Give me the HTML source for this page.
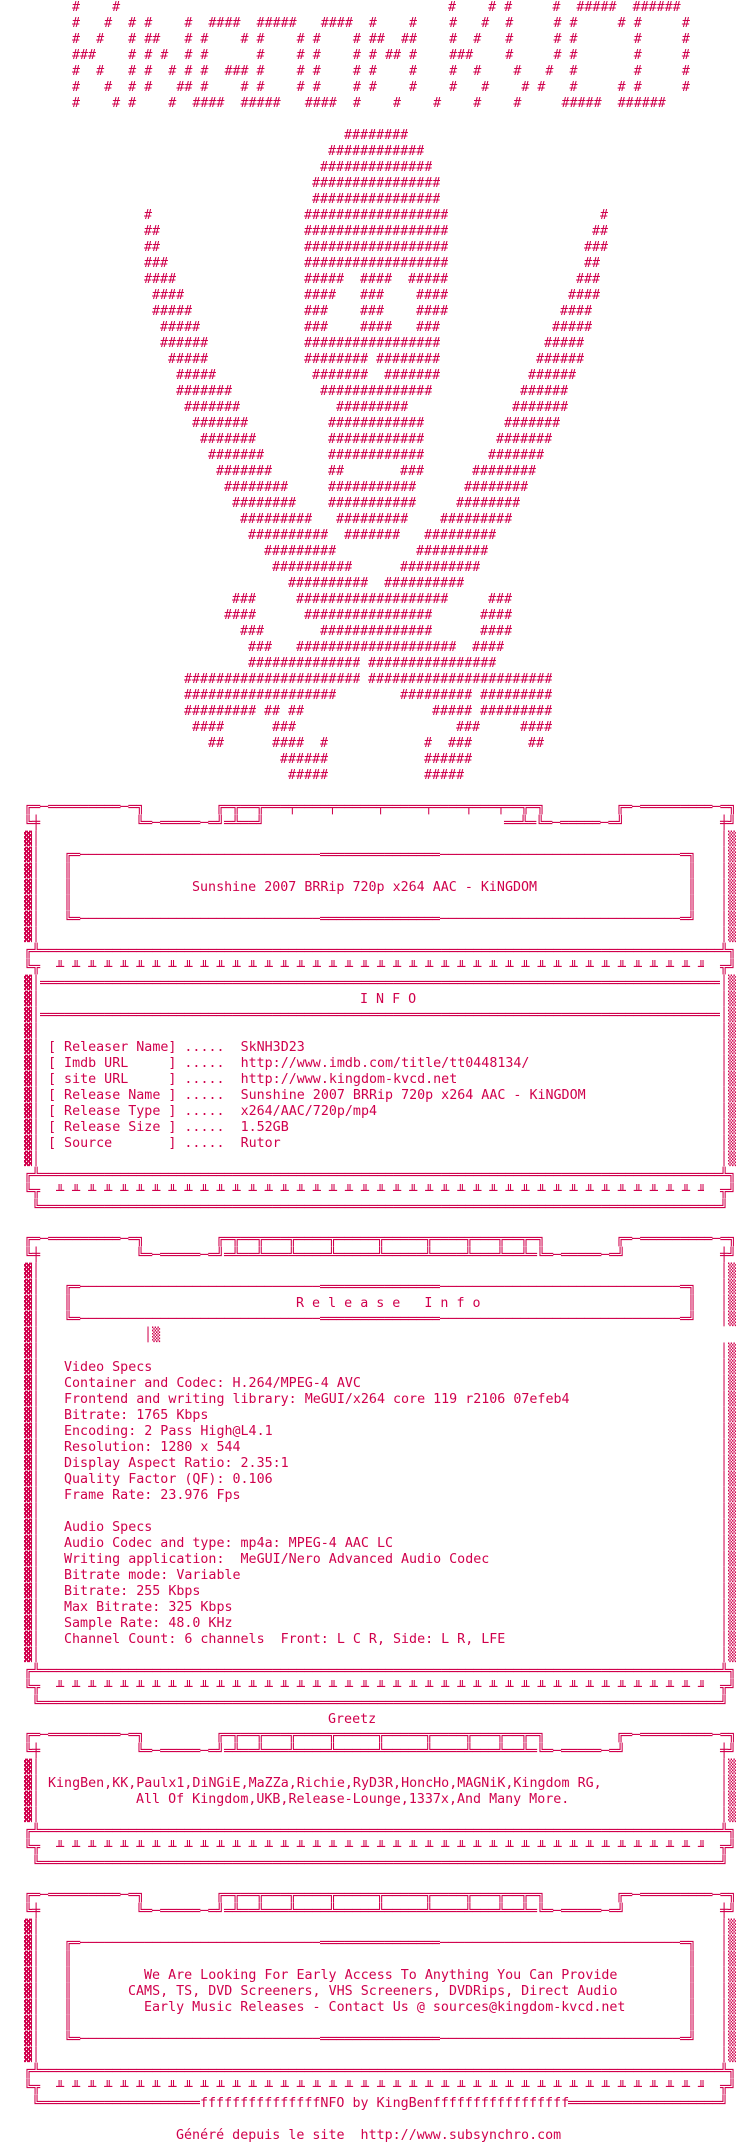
<!DOCTYPE html>
<html><head><meta charset="utf-8">
<style>
html,body{margin:0;padding:0;background:#fff}
body{width:736px;height:2144px;position:relative;overflow:hidden}
.t{position:absolute;left:calc(var(--c)*8px);top:calc(var(--y)*16px);white-space:pre;font-family:"DejaVu Sans Mono","Liberation Mono",monospace;font-size:13.33px;line-height:16px;color:#d0004c;font-style:normal;margin:0}
.w{overflow:hidden;width:calc(var(--n)*8px);height:16px}
</style></head><body>
<!-- header -->
<i class="t" style="--y:0;--c:9">#    #</i><i class="t" style="--y:0;--c:56">#    # #     #  #####  ######</i>
<i class="t" style="--y:1;--c:9">#   #  # #    #  ####  #####   ####  #    #    #   #  #     # #     # #     #</i>
<i class="t" style="--y:2;--c:9">#  #   # ##   # #    # #    # #    # ##  ##    #  #   #     # #       #     #</i>
<i class="t" style="--y:3;--c:9">###    # # #  # #      #    # #    # # ## #    ###    #     # #       #     #</i>
<i class="t" style="--y:4;--c:9">#  #   # #  # # #  ### #    # #    # #    #    #  #    #   #  #       #     #</i>
<i class="t" style="--y:5;--c:9">#   #  # #   ## #    # #    # #    # #    #    #   #    # #   #     # #     #</i>
<i class="t" style="--y:6;--c:9">#    # #    #  ####  #####   ####  #    #    #    #    #     #####  ######</i>
<!-- art -->
<i class="t w" style="--y:8;--c:43;--n:8">########################</i>
<i class="t w" style="--y:9;--c:41;--n:12">########################</i>
<i class="t w" style="--y:10;--c:40;--n:14">########################</i>
<i class="t w" style="--y:11;--c:39;--n:16">########################</i>
<i class="t w" style="--y:12;--c:39;--n:16">########################</i>
<i class="t w" style="--y:13;--c:18;--n:1">########################</i><i class="t w" style="--y:13;--c:38;--n:18">########################</i><i class="t w" style="--y:13;--c:75;--n:1">########################</i>
<i class="t w" style="--y:14;--c:18;--n:2">########################</i><i class="t w" style="--y:14;--c:38;--n:18">########################</i><i class="t w" style="--y:14;--c:74;--n:2">########################</i>
<i class="t w" style="--y:15;--c:18;--n:2">########################</i><i class="t w" style="--y:15;--c:38;--n:18">########################</i><i class="t w" style="--y:15;--c:73;--n:3">########################</i>
<i class="t w" style="--y:16;--c:18;--n:3">########################</i><i class="t w" style="--y:16;--c:38;--n:18">########################</i><i class="t w" style="--y:16;--c:73;--n:2">########################</i>
<i class="t w" style="--y:17;--c:18;--n:4">########################</i><i class="t w" style="--y:17;--c:38;--n:5">########################</i><i class="t w" style="--y:17;--c:45;--n:4">########################</i><i class="t w" style="--y:17;--c:51;--n:5">########################</i><i class="t w" style="--y:17;--c:72;--n:3">########################</i>
<i class="t w" style="--y:18;--c:19;--n:4">########################</i><i class="t w" style="--y:18;--c:38;--n:4">########################</i><i class="t w" style="--y:18;--c:45;--n:3">########################</i><i class="t w" style="--y:18;--c:52;--n:4">########################</i><i class="t w" style="--y:18;--c:71;--n:4">########################</i>
<i class="t w" style="--y:19;--c:19;--n:5">########################</i><i class="t w" style="--y:19;--c:38;--n:3">########################</i><i class="t w" style="--y:19;--c:45;--n:3">########################</i><i class="t w" style="--y:19;--c:52;--n:4">########################</i><i class="t w" style="--y:19;--c:70;--n:4">########################</i>
<i class="t w" style="--y:20;--c:20;--n:5">########################</i><i class="t w" style="--y:20;--c:38;--n:3">########################</i><i class="t w" style="--y:20;--c:45;--n:4">########################</i><i class="t w" style="--y:20;--c:52;--n:3">########################</i><i class="t w" style="--y:20;--c:69;--n:5">########################</i>
<i class="t w" style="--y:21;--c:20;--n:6">########################</i><i class="t w" style="--y:21;--c:38;--n:17">########################</i><i class="t w" style="--y:21;--c:68;--n:5">########################</i>
<i class="t w" style="--y:22;--c:21;--n:5">########################</i><i class="t w" style="--y:22;--c:38;--n:8">########################</i><i class="t w" style="--y:22;--c:47;--n:8">########################</i><i class="t w" style="--y:22;--c:67;--n:6">########################</i>
<i class="t w" style="--y:23;--c:22;--n:5">########################</i><i class="t w" style="--y:23;--c:39;--n:7">########################</i><i class="t w" style="--y:23;--c:48;--n:7">########################</i><i class="t w" style="--y:23;--c:66;--n:6">########################</i>
<i class="t w" style="--y:24;--c:22;--n:7">########################</i><i class="t w" style="--y:24;--c:40;--n:14">########################</i><i class="t w" style="--y:24;--c:65;--n:6">########################</i>
<i class="t w" style="--y:25;--c:23;--n:7">########################</i><i class="t w" style="--y:25;--c:42;--n:9">########################</i><i class="t w" style="--y:25;--c:64;--n:7">########################</i>
<i class="t w" style="--y:26;--c:24;--n:7">########################</i><i class="t w" style="--y:26;--c:41;--n:12">########################</i><i class="t w" style="--y:26;--c:63;--n:7">########################</i>
<i class="t w" style="--y:27;--c:25;--n:7">########################</i><i class="t w" style="--y:27;--c:41;--n:12">########################</i><i class="t w" style="--y:27;--c:62;--n:7">########################</i>
<i class="t w" style="--y:28;--c:26;--n:7">########################</i><i class="t w" style="--y:28;--c:41;--n:12">########################</i><i class="t w" style="--y:28;--c:61;--n:7">########################</i>
<i class="t w" style="--y:29;--c:27;--n:7">########################</i><i class="t w" style="--y:29;--c:41;--n:2">########################</i><i class="t w" style="--y:29;--c:50;--n:3">########################</i><i class="t w" style="--y:29;--c:59;--n:8">########################</i>
<i class="t w" style="--y:30;--c:28;--n:8">########################</i><i class="t w" style="--y:30;--c:41;--n:11">########################</i><i class="t w" style="--y:30;--c:58;--n:8">########################</i>
<i class="t w" style="--y:31;--c:29;--n:8">########################</i><i class="t w" style="--y:31;--c:41;--n:11">########################</i><i class="t w" style="--y:31;--c:57;--n:8">########################</i>
<i class="t w" style="--y:32;--c:30;--n:9">########################</i><i class="t w" style="--y:32;--c:42;--n:9">########################</i><i class="t w" style="--y:32;--c:55;--n:9">########################</i>
<i class="t w" style="--y:33;--c:31;--n:10">########################</i><i class="t w" style="--y:33;--c:43;--n:7">########################</i><i class="t w" style="--y:33;--c:53;--n:9">########################</i>
<i class="t w" style="--y:34;--c:33;--n:9">########################</i><i class="t w" style="--y:34;--c:52;--n:9">########################</i>
<i class="t w" style="--y:35;--c:34;--n:10">########################</i><i class="t w" style="--y:35;--c:50;--n:10">########################</i>
<i class="t w" style="--y:36;--c:36;--n:10">########################</i><i class="t w" style="--y:36;--c:48;--n:10">########################</i>
<i class="t w" style="--y:37;--c:29;--n:3">########################</i><i class="t w" style="--y:37;--c:37;--n:19">########################</i><i class="t w" style="--y:37;--c:61;--n:3">########################</i>
<i class="t w" style="--y:38;--c:28;--n:4">########################</i><i class="t w" style="--y:38;--c:38;--n:16">########################</i><i class="t w" style="--y:38;--c:60;--n:4">########################</i>
<i class="t w" style="--y:39;--c:30;--n:3">########################</i><i class="t w" style="--y:39;--c:40;--n:14">########################</i><i class="t w" style="--y:39;--c:60;--n:4">########################</i>
<i class="t w" style="--y:40;--c:31;--n:3">########################</i><i class="t w" style="--y:40;--c:37;--n:20">########################</i><i class="t w" style="--y:40;--c:59;--n:4">########################</i>
<i class="t w" style="--y:41;--c:31;--n:14">########################</i><i class="t w" style="--y:41;--c:46;--n:16">########################</i>
<i class="t w" style="--y:42;--c:23;--n:22">########################</i><i class="t w" style="--y:42;--c:46;--n:23">########################</i>
<i class="t w" style="--y:43;--c:23;--n:19">########################</i><i class="t w" style="--y:43;--c:50;--n:9">########################</i><i class="t w" style="--y:43;--c:60;--n:9">########################</i>
<i class="t w" style="--y:44;--c:23;--n:9">########################</i><i class="t w" style="--y:44;--c:33;--n:2">########################</i><i class="t w" style="--y:44;--c:36;--n:2">########################</i><i class="t w" style="--y:44;--c:54;--n:5">########################</i><i class="t w" style="--y:44;--c:60;--n:9">########################</i>
<i class="t w" style="--y:45;--c:24;--n:4">########################</i><i class="t w" style="--y:45;--c:34;--n:3">########################</i><i class="t w" style="--y:45;--c:57;--n:3">########################</i><i class="t w" style="--y:45;--c:65;--n:4">########################</i>
<i class="t w" style="--y:46;--c:26;--n:2">########################</i><i class="t w" style="--y:46;--c:34;--n:4">########################</i><i class="t w" style="--y:46;--c:40;--n:1">########################</i><i class="t w" style="--y:46;--c:53;--n:1">########################</i><i class="t w" style="--y:46;--c:56;--n:3">########################</i><i class="t w" style="--y:46;--c:66;--n:2">########################</i>
<i class="t w" style="--y:47;--c:35;--n:6">########################</i><i class="t w" style="--y:47;--c:53;--n:6">########################</i>
<i class="t w" style="--y:48;--c:36;--n:5">########################</i><i class="t w" style="--y:48;--c:53;--n:5">########################</i>

<!-- BOX 1 -->
<i class="t" style="--y:50;--c:3">╔═─═════════─═╗</i><i class="t" style="--y:50;--c:27">╔═╦══╦═══╤════╤═════╤═════╤════╤═══╤══╦═╗</i><i class="t" style="--y:50;--c:77">╔═─═════════─═╗</i>
<i class="t" style="--y:51;--c:3">╚╪</i><i class="t" style="--y:51;--c:17">╚═─═════─═╝</i><i class="t" style="--y:51;--c:28">═╩══╝</i><i class="t" style="--y:51;--c:63">══╩═╚═─═════─═╝</i><i class="t" style="--y:51;--c:90">╪╝</i>
<i class="t" style="--y:52;--c:3">▓│
▓│
▓│
▓│
▓│
▓│
▓│</i>
<i class="t" style="--y:52;--c:90">│▒
│▒
│▒
│▒
│▒
│▒
│▒</i>
<i class="t" style="--y:53;--c:8">╔═</i><i class="t w" style="--y:53;--c:10;--n:30">──────────────────────────────────</i><i class="t w" style="--y:53;--c:40;--n:15">══════════════════</i><i class="t w" style="--y:53;--c:55;--n:30">──────────────────────────────────</i><i class="t" style="--y:53;--c:85">═╗</i>
<i class="t" style="--y:54;--c:8">║
║
║</i><i class="t" style="--y:54;--c:86">║
║
║</i>
<i class="t" style="--y:55;--c:24">Sunshine 2007 BRRip 720p x264 AAC - KiNGDOM</i>
<i class="t" style="--y:57;--c:8">╚═</i><i class="t w" style="--y:57;--c:10;--n:30">──────────────────────────────────</i><i class="t w" style="--y:57;--c:40;--n:15">══════════════════</i><i class="t w" style="--y:57;--c:55;--n:30">──────────────────────────────────</i><i class="t" style="--y:57;--c:85">═╝</i>
<i class="t" style="--y:59;--c:3">╔╩</i><i class="t w" style="--y:59;--c:5;--n:85">══════════════════════════════════════════════════════════════════════════════════════════</i><i class="t" style="--y:59;--c:90">╩╗</i>
<i class="t" style="--y:60;--c:3">╚╦</i><i class="t w" style="--y:60;--c:7;--n:81">╨ ╨ ╨ ╨ ╨ ╨ ╨ ╨ ╨ ╨ ╨ ╨ ╨ ╨ ╨ ╨ ╨ ╨ ╨ ╨ ╨ ╨ ╨ ╨ ╨ ╨ ╨ ╨ ╨ ╨ ╨ ╨ ╨ ╨ ╨ ╨ ╨ ╨ ╨ ╨ ╨ ╨</i><i class="t" style="--y:60;--c:90">╦╝</i>

<!-- INFO -->
<i class="t" style="--y:61;--c:3">▓│
▓│
▓│
▓│
▓│
▓│
▓│
▓│
▓│
▓│
▓│
▓│</i>
<i class="t" style="--y:61;--c:90">│▒
│▒
│▒
│▒
│▒
│▒
│▒
│▒
│▒
│▒
│▒
│▒</i>
<i class="t w" style="--y:61;--c:5;--n:85">══════════════════════════════════════════════════════════════════════════════════════════</i>
<i class="t" style="--y:62;--c:45">I N F O</i>
<i class="t w" style="--y:63;--c:5;--n:85">══════════════════════════════════════════════════════════════════════════════════════════</i>
<i class="t" style="--y:65;--c:6">[ Releaser Name] .....  SkNH3D23
[ Imdb URL     ] .....  http://www.imdb.com/title/tt0448134/
[ site URL     ] .....  http://www.kingdom-kvcd.net
[ Release Name ] .....  Sunshine 2007 BRRip 720p x264 AAC - KiNGDOM
[ Release Type ] .....  x264/AAC/720p/mp4
[ Release Size ] .....  1.52GB
[ Source       ] .....  Rutor</i>
<i class="t" style="--y:73;--c:3">╔╩</i><i class="t w" style="--y:73;--c:5;--n:85">══════════════════════════════════════════════════════════════════════════════════════════</i><i class="t" style="--y:73;--c:90">╩╗</i>
<i class="t" style="--y:74;--c:3">╚╦</i><i class="t w" style="--y:74;--c:7;--n:81">╨ ╨ ╨ ╨ ╨ ╨ ╨ ╨ ╨ ╨ ╨ ╨ ╨ ╨ ╨ ╨ ╨ ╨ ╨ ╨ ╨ ╨ ╨ ╨ ╨ ╨ ╨ ╨ ╨ ╨ ╨ ╨ ╨ ╨ ╨ ╨ ╨ ╨ ╨ ╨ ╨ ╨</i><i class="t" style="--y:74;--c:90">╦╝</i>
<i class="t" style="--y:75;--c:4">╚</i><i class="t w" style="--y:75;--c:5;--n:85">══════════════════════════════════════════════════════════════════════════════════════════</i><i class="t" style="--y:75;--c:90">╝</i>

<!-- RELEASE INFO -->
<i class="t" style="--y:77;--c:3">╔═─═════════─═╗</i><i class="t" style="--y:77;--c:27">╔═╦══╦═══╦════╦═════╦═════╦════╦═══╦══╦═╗</i><i class="t" style="--y:77;--c:77">╔═─═════════─═╗</i>
<i class="t" style="--y:78;--c:3">╚╪</i><i class="t" style="--y:78;--c:17">╚═─═════─═╝</i><i class="t" style="--y:78;--c:28">═╩══╩═══╩════╩═════╩═════╩════╩═══╩══╩═╚═─═════─═╝</i><i class="t" style="--y:78;--c:90">╪╝</i>
<i class="t" style="--y:79;--c:3">▓│
▓│
▓│
▓│
▓│
▓│
▓│
▓│
▓│
▓│
▓│
▓│
▓│
▓│
▓│
▓│
▓│
▓│
▓│
▓│
▓│
▓│
▓│
▓│
▓│</i>
<i class="t" style="--y:79;--c:90">│▒
│▒
│▒
│▒</i>
<i class="t" style="--y:84;--c:90">│▒
│▒
│▒
│▒
│▒
│▒
│▒
│▒
│▒
│▒
│▒
│▒
│▒
│▒
│▒
│▒
│▒
│▒
│▒
│▒</i>
<i class="t" style="--y:80;--c:8">╔═</i><i class="t w" style="--y:80;--c:10;--n:30">──────────────────────────────────</i><i class="t w" style="--y:80;--c:40;--n:15">══════════════════</i><i class="t w" style="--y:80;--c:55;--n:30">──────────────────────────────────</i><i class="t" style="--y:80;--c:85">═╗</i>
<i class="t" style="--y:81;--c:8">║</i><i class="t" style="--y:81;--c:86">║</i>
<i class="t" style="--y:81;--c:37">R e l e a s e   I n f o</i>
<i class="t" style="--y:82;--c:8">╚═</i><i class="t w" style="--y:82;--c:10;--n:30">──────────────────────────────────</i><i class="t w" style="--y:82;--c:40;--n:15">══════════════════</i><i class="t w" style="--y:82;--c:55;--n:30">──────────────────────────────────</i><i class="t" style="--y:82;--c:85">═╝</i>
<i class="t" style="--y:83;--c:18">│▒</i>
<i class="t" style="--y:85;--c:8">Video Specs
Container and Codec: H.264/MPEG-4 AVC
Frontend and writing library: MeGUI/x264 core 119 r2106 07efeb4
Bitrate: 1765 Kbps
Encoding: 2 Pass High@L4.1
Resolution: 1280 x 544
Display Aspect Ratio: 2.35:1
Quality Factor (QF): 0.106
Frame Rate: 23.976 Fps

Audio Specs
Audio Codec and type: mp4a: MPEG-4 AAC LC
Writing application:  MeGUI/Nero Advanced Audio Codec
Bitrate mode: Variable
Bitrate: 255 Kbps
Max Bitrate: 325 Kbps
Sample Rate: 48.0 KHz
Channel Count: 6 channels  Front: L C R, Side: L R, LFE</i>
<i class="t" style="--y:104;--c:3">╔╩</i><i class="t w" style="--y:104;--c:5;--n:85">══════════════════════════════════════════════════════════════════════════════════════════</i><i class="t" style="--y:104;--c:90">╩╗</i>
<i class="t" style="--y:105;--c:3">╚╦</i><i class="t w" style="--y:105;--c:7;--n:81">╨ ╨ ╨ ╨ ╨ ╨ ╨ ╨ ╨ ╨ ╨ ╨ ╨ ╨ ╨ ╨ ╨ ╨ ╨ ╨ ╨ ╨ ╨ ╨ ╨ ╨ ╨ ╨ ╨ ╨ ╨ ╨ ╨ ╨ ╨ ╨ ╨ ╨ ╨ ╨ ╨ ╨</i><i class="t" style="--y:105;--c:90">╦╝</i>
<i class="t" style="--y:106;--c:4">╚</i><i class="t w" style="--y:106;--c:5;--n:85">══════════════════════════════════════════════════════════════════════════════════════════</i><i class="t" style="--y:106;--c:90">╝</i>

<!-- GREETZ -->
<i class="t" style="--y:107;--c:41">Greetz</i>
<i class="t" style="--y:108;--c:3">╔═─═════════─═╗</i><i class="t" style="--y:108;--c:27">╔═╦══╦═══╦════╦═════╦═════╦════╦═══╦══╦═╗</i><i class="t" style="--y:108;--c:77">╔═─═════════─═╗</i>
<i class="t" style="--y:109;--c:3">╚╪</i><i class="t" style="--y:109;--c:17">╚═─═════─═╝</i><i class="t" style="--y:109;--c:28">═╩══╩═══╩════╩═════╩═════╩════╩═══╩══╩═╚═─═════─═╝</i><i class="t" style="--y:109;--c:90">╪╝</i>
<i class="t" style="--y:110;--c:3">▓│
▓│
▓│
▓│</i>
<i class="t" style="--y:110;--c:90">│▒
│▒
│▒
│▒</i>
<i class="t" style="--y:111;--c:6">KingBen,KK,Paulx1,DiNGiE,MaZZa,Richie,RyD3R,HoncHo,MAGNiK,Kingdom RG,</i>
<i class="t" style="--y:112;--c:17">All Of Kingdom,UKB,Release-Lounge,1337x,And Many More.</i>
<i class="t" style="--y:114;--c:3">╔╩</i><i class="t w" style="--y:114;--c:5;--n:85">══════════════════════════════════════════════════════════════════════════════════════════</i><i class="t" style="--y:114;--c:90">╩╗</i>
<i class="t" style="--y:115;--c:3">╚╦</i><i class="t w" style="--y:115;--c:7;--n:81">╨ ╨ ╨ ╨ ╨ ╨ ╨ ╨ ╨ ╨ ╨ ╨ ╨ ╨ ╨ ╨ ╨ ╨ ╨ ╨ ╨ ╨ ╨ ╨ ╨ ╨ ╨ ╨ ╨ ╨ ╨ ╨ ╨ ╨ ╨ ╨ ╨ ╨ ╨ ╨ ╨ ╨</i><i class="t" style="--y:115;--c:90">╦╝</i>
<i class="t" style="--y:116;--c:4">╚</i><i class="t w" style="--y:116;--c:5;--n:85">══════════════════════════════════════════════════════════════════════════════════════════</i><i class="t" style="--y:116;--c:90">╝</i>

<!-- LAST BOX -->
<i class="t" style="--y:118;--c:3">╔═─═════════─═╗</i><i class="t" style="--y:118;--c:27">╔═╦══╦═══╦════╦═════╦═════╦════╦═══╦══╦═╗</i><i class="t" style="--y:118;--c:77">╔═─═════════─═╗</i>
<i class="t" style="--y:119;--c:3">╚╪</i><i class="t" style="--y:119;--c:17">╚═─═════─═╝</i><i class="t" style="--y:119;--c:28">═╩══╩═══╩════╩═════╩═════╩════╩═══╩══╩═╚═─═════─═╝</i><i class="t" style="--y:119;--c:90">╪╝</i>
<i class="t" style="--y:120;--c:3">▓│
▓│
▓│
▓│
▓│
▓│
▓│
▓│
▓│</i>
<i class="t" style="--y:120;--c:90">│▒
│▒
│▒
│▒
│▒
│▒
│▒
│▒
│▒</i>
<i class="t" style="--y:121;--c:8">╔═</i><i class="t w" style="--y:121;--c:10;--n:30">──────────────────────────────────</i><i class="t w" style="--y:121;--c:40;--n:15">══════════════════</i><i class="t w" style="--y:121;--c:55;--n:30">──────────────────────────────────</i><i class="t" style="--y:121;--c:85">═╗</i>
<i class="t" style="--y:122;--c:8">║
║
║
║
║</i><i class="t" style="--y:122;--c:86">║
║
║
║
║</i>
<i class="t" style="--y:123;--c:18">We Are Looking For Early Access To Anything You Can Provide</i>
<i class="t" style="--y:124;--c:16">CAMS, TS, DVD Screeners, VHS Screeners, DVDRips, Direct Audio</i>
<i class="t" style="--y:125;--c:18">Early Music Releases - Contact Us @ sources@kingdom-kvcd.net</i>
<i class="t" style="--y:127;--c:8">╚═</i><i class="t w" style="--y:127;--c:10;--n:30">──────────────────────────────────</i><i class="t w" style="--y:127;--c:40;--n:15">══════════════════</i><i class="t w" style="--y:127;--c:55;--n:30">──────────────────────────────────</i><i class="t" style="--y:127;--c:85">═╝</i>
<i class="t" style="--y:129;--c:3">╔╩</i><i class="t w" style="--y:129;--c:5;--n:85">══════════════════════════════════════════════════════════════════════════════════════════</i><i class="t" style="--y:129;--c:90">╩╗</i>
<i class="t" style="--y:130;--c:3">╚╦</i><i class="t w" style="--y:130;--c:7;--n:81">╨ ╨ ╨ ╨ ╨ ╨ ╨ ╨ ╨ ╨ ╨ ╨ ╨ ╨ ╨ ╨ ╨ ╨ ╨ ╨ ╨ ╨ ╨ ╨ ╨ ╨ ╨ ╨ ╨ ╨ ╨ ╨ ╨ ╨ ╨ ╨ ╨ ╨ ╨ ╨ ╨ ╨</i><i class="t" style="--y:130;--c:90">╦╝</i>
<i class="t" style="--y:131;--c:4">╚</i><i class="t w" style="--y:131;--c:5;--n:20">════════════════════════</i><i class="t" style="--y:131;--c:25">fffffffffffffffNFO by KingBenfffffffffffffffff</i><i class="t w" style="--y:131;--c:71;--n:19">════════════════════════</i><i class="t" style="--y:131;--c:90">╝</i>
<i class="t" style="--y:133;--c:22">Généré depuis le site  http://www.subsynchro.com</i>
</body></html>
